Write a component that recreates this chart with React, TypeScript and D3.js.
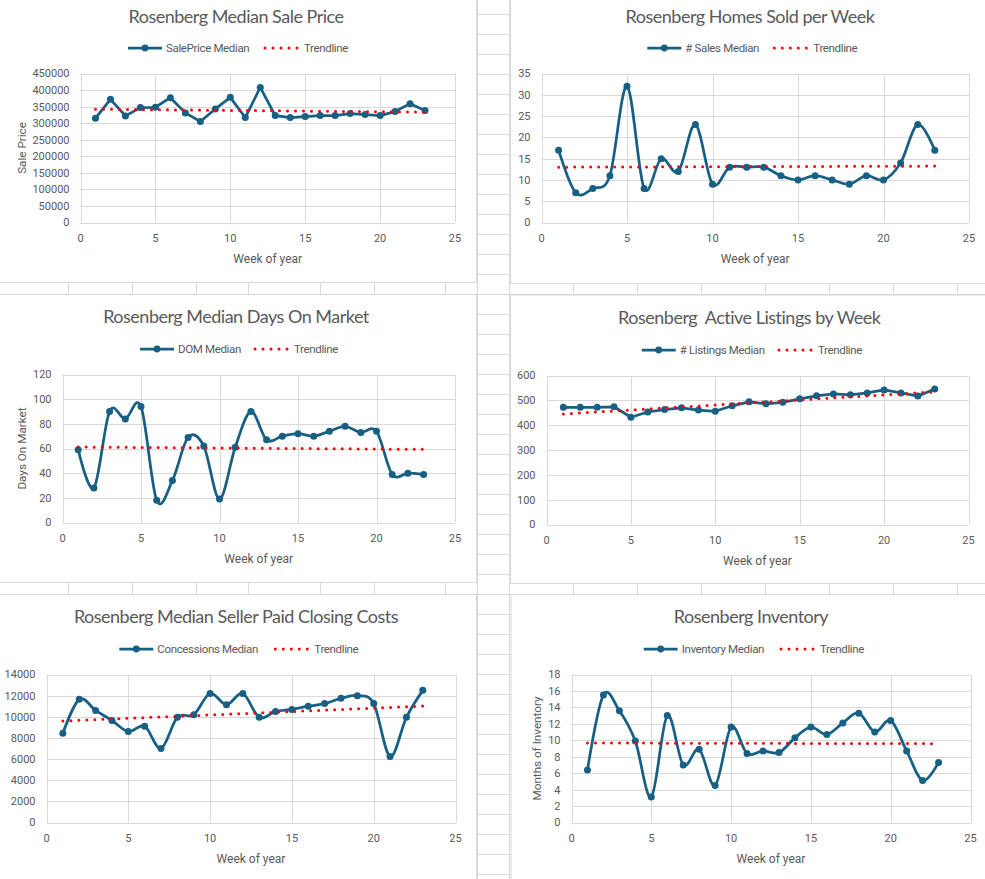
import React from "react";
import * as d3 from "d3";

// ---------- DATA ----------
const weeks = [1, 2, 3, 4, 5, 6, 7, 8, 9, 10, 11, 12, 13, 14, 15, 16, 17, 18, 19, 20, 21, 22, 23];
const xTicks = [0, 5, 10, 15, 20, 25];
const trendWeeks = [1, 23];

const salePriceMedian = [315000, 372000, 322000, 347000, 348000, 377000, 331000, 305000, 343000, 378000, 317000, 408000, 323000, 317000, 320000, 323000, 323000, 329000, 326000, 323000, 335000, 359000, 338000];
const salePriceTrend = [342300, 333200];
const salePriceTicks = [0, 50000, 100000, 150000, 200000, 250000, 300000, 350000, 400000, 450000];

const salesMedian = [17, 7, 8, 11, 32, 8, 15, 12, 23, 9, 13, 13, 13, 11, 10, 11, 10, 9, 11, 10, 14, 23, 17];
const salesTrend = [13.0, 13.25];
const salesTicks = [0, 5, 10, 15, 20, 25, 30, 35];

const domMedian = [59, 28, 90, 84, 94, 18, 34, 69, 62, 19, 61, 90, 67, 70, 72, 70, 74, 78, 73, 74, 39, 40, 39];
const domTrend = [61.2, 59.3];
const domTicks = [0, 20, 40, 60, 80, 100, 120];

const listingsMedian = [472, 472, 472, 474, 432, 453, 463, 470, 461, 456, 478, 494, 486, 492, 506, 518, 526, 522, 530, 542, 530, 517, 546];
const listingsTrend = [445, 534];
const listingsTicks = [0, 100, 200, 300, 400, 500, 600];

const concessionsMedian = [8450, 11650, 10600, 9650, 8600, 9100, 7000, 9950, 10200, 12200, 11150, 12200, 9950, 10500, 10700, 11000, 11250, 11750, 12000, 11250, 6250, 9950, 12500];
const concessionsTrend = [9600, 11010];
const concessionsTicks = [0, 2000, 4000, 6000, 8000, 10000, 12000, 14000];

const inventoryMedian = [6.4, 15.5, 13.6, 9.9, 3.1, 13.0, 7.0, 8.9, 4.5, 11.6, 8.4, 8.7, 8.5, 10.3, 11.6, 10.7, 12.1, 13.3, 11.0, 12.4, 8.7, 5.1, 7.3];
const inventoryTrend = [9.67, 9.59];
const inventoryTicks = [0, 2, 4, 6, 8, 10, 12, 14, 16, 18];

// ---------- STYLE / LAYOUT ----------
const TITLE_FONT = "Lato, 'Open Sans', sans-serif";
const SMALL_FONT = "Roboto, 'Liberation Sans', sans-serif";
const TEXT_COLOR = "#595959";
const GRID = "#d9d9d9";
const LINE_COLOR = "#176084";
const TREND_COLOR = "#ff0000";

const sheetRows = d3.range(0, 44).map((k) => 14.5 + 20 * k);
const sheetCols = [68.5, 132.5, 196.5, 248.5, 320.5, 374.5, 445.5, 477.5, 509.5, 573.5, 637.5, 701.5, 765.5, 829.5, 893.5, 957.5];

type Spec = {
  title: string;
  series: string;
  values: number[];
  trend: number[];
  yTicks: number[];
  smooth: boolean;
  yTitle?: string;
  box: { x: number; y: number; w: number; h: number };
  plot: { l: number; r: number; t: number; b: number };
  titleX: number;
  titleY: number;
  legendY: number;
  legendLineX: number;
  legendDotsX: number;
  yTitleX?: number;
};

const charts: Spec[] = [
  {
    title: "Rosenberg Median Sale Price", series: "SalePrice Median", values: salePriceMedian, trend: salePriceTrend,
    yTicks: salePriceTicks, smooth: false, yTitle: "Sale Price",
    box: { x: -4.5, y: -4.5, w: 481, h: 287 }, plot: { l: 80.5, r: 455, t: 73.5, b: 222.5 },
    titleX: 236, titleY: 22.7, legendY: 48, legendLineX: 128, legendDotsX: 265, yTitleX: 21.7,
  },
  {
    title: "Rosenberg Homes Sold per Week", series: "# Sales Median", values: salesMedian, trend: salesTrend,
    yTicks: salesTicks, smooth: true,
    box: { x: 510.5, y: -4.5, w: 480, h: 288 }, plot: { l: 541.5, r: 969, t: 73.5, b: 222.5 },
    titleX: 750, titleY: 22.7, legendY: 48, legendLineX: 647.3, legendDotsX: 774.3,
  },
  {
    title: "Rosenberg Median Days On Market", series: "DOM Median", values: domMedian, trend: domTrend,
    yTicks: domTicks, smooth: true, yTitle: "Days On Market",
    box: { x: -4.5, y: 294.5, w: 481, h: 288 }, plot: { l: 62.5, r: 455, t: 374.5, b: 522.5 },
    titleX: 236, titleY: 323.3, legendY: 349, legendLineX: 140, legendDotsX: 255, yTitleX: 21.7,
  },
  {
    title: "Rosenberg  Active Listings by Week", series: "# Listings Median", values: listingsMedian, trend: listingsTrend,
    yTicks: listingsTicks, smooth: false,
    box: { x: 510.5, y: 295, w: 480, h: 288.5 }, plot: { l: 546.5, r: 968.5, t: 375.5, b: 524.5 },
    titleX: 749.3, titleY: 324.3, legendY: 350, legendLineX: 641.7, legendDotsX: 779,
  },
  {
    title: "Rosenberg Median Seller Paid Closing Costs", series: "Concessions Median", values: concessionsMedian, trend: concessionsTrend,
    yTicks: concessionsTicks, smooth: true,
    box: { x: -4.5, y: 594.5, w: 481, h: 300 }, plot: { l: 46.5, r: 455.5, t: 674.5, b: 822.5 },
    titleX: 236, titleY: 623.3, legendY: 649, legendLineX: 119.3, legendDotsX: 275.3,
  },
  {
    title: "Rosenberg Inventory", series: "Inventory Median", values: inventoryMedian, trend: inventoryTrend,
    yTicks: inventoryTicks, smooth: true, yTitle: "Months of Inventory",
    box: { x: 511, y: 594.5, w: 480, h: 300 }, plot: { l: 571.5, r: 970.5, t: 674.5, b: 822.5 },
    titleX: 751, titleY: 623.3, legendY: 649, legendLineX: 643.7, legendDotsX: 781, yTitleX: 536.7,
  },
];

function Chart({ s }: { s: Spec }) {
  const x = d3.scaleLinear().domain([0, 25]).range([s.plot.l, s.plot.r]);
  const yMax = s.yTicks[s.yTicks.length - 1];
  const y = d3.scaleLinear().domain([0, yMax]).range([s.plot.b, s.plot.t]);
  const pts: [number, number][] = weeks.map((w, i) => [x(w), y(s.values[i])]);
  const line = d3
    .line<[number, number]>()
    .x((d) => d[0])
    .y((d) => d[1])
    .curve(s.smooth ? d3.curveCardinal.tension(0) : d3.curveLinear);
  const trendPts: [number, number][] = trendWeeks.map((w, i) => [x(w), y(s.trend[i])]);
  const trendPath = d3.line()(trendPts) as string;
  const midY = (s.plot.t + s.plot.b) / 2;
  const midX = (s.plot.l + s.plot.r) / 2;
  return (
    <g>
      <rect x={s.box.x} y={s.box.y} width={s.box.w} height={s.box.h} fill="#fff" stroke={GRID} strokeWidth={1} />
      <text x={s.titleX} y={s.titleY} textAnchor="middle" fontFamily={TITLE_FONT} fontSize={18} letterSpacing={-0.5} fill={TEXT_COLOR} style={{ whiteSpace: "pre" }}>
        {s.title}
      </text>
      {/* legend */}
      <g fontFamily={SMALL_FONT} fontSize={11.5} letterSpacing={-0.35} fill={TEXT_COLOR}>
        <line x1={s.legendLineX} x2={s.legendLineX + 34} y1={s.legendY} y2={s.legendY} stroke={LINE_COLOR} strokeWidth={2.75} />
        <circle cx={s.legendLineX + 17} cy={s.legendY} r={3.4} fill={LINE_COLOR} />
        <text x={s.legendLineX + 38} y={s.legendY + 4}>{s.series}</text>
        <line x1={s.legendDotsX} x2={s.legendDotsX + 34} y1={s.legendY} y2={s.legendY} stroke={TREND_COLOR} strokeWidth={3} strokeLinecap="round" strokeDasharray="0 8" />
        <text x={s.legendDotsX + 39} y={s.legendY + 4}>Trendline</text>
      </g>
      {/* grid */}
      {s.yTicks.map((t) => (
        <line key={"h" + t} x1={s.plot.l} x2={s.plot.r} y1={Math.round(y(t)) + 0.5} y2={Math.round(y(t)) + 0.5} stroke={GRID} strokeWidth={1} />
      ))}
      {xTicks.map((t) => (
        <line key={"v" + t} x1={Math.round(x(t)) + 0.5} x2={Math.round(x(t)) + 0.5} y1={s.plot.t} y2={s.plot.b} stroke={GRID} strokeWidth={1} />
      ))}
      {/* tick labels */}
      <g fontFamily={SMALL_FONT} fontSize={11} fill={TEXT_COLOR}>
        {s.yTicks.map((t) => (
          <text key={"yl" + t} x={s.plot.l - 11} y={y(t) + 3.9} textAnchor="end">{t}</text>
        ))}
        {xTicks.map((t) => (
          <text key={"xl" + t} x={x(t)} y={s.plot.b + 19} textAnchor="middle">{t}</text>
        ))}
      </g>
      <g fontFamily={SMALL_FONT} fill={TEXT_COLOR}>
        <text x={midX} y={s.plot.b + 40.2} textAnchor="middle" fontSize={12}>Week of year</text>
        {s.yTitle && (
          <text transform={`translate(${s.yTitleX! + 4},${midY}) rotate(-90)`} textAnchor="middle" fontSize={11.7}>{s.yTitle}</text>
        )}
      </g>
      {/* series */}
      <path d={line(pts) as string} fill="none" stroke={LINE_COLOR} strokeWidth={2.75} strokeLinejoin="round" />
      {pts.map((p, i) => (
        <circle key={"m" + i} cx={p[0]} cy={p[1]} r={3.5} fill={LINE_COLOR} />
      ))}
      <path d={trendPath} fill="none" stroke={TREND_COLOR} strokeWidth={3} strokeLinecap="round" strokeDasharray="0 8" />
    </g>
  );
}

export default function App() {
  return (
    <svg width={985} height={879} style={{ position: "absolute", left: 0, top: 0, background: "#fff" }}>
      <rect x={0} y={0} width={985} height={879} fill="#fff" />
      {sheetRows.map((r) => (
        <line key={"r" + r} x1={0} x2={985} y1={r} y2={r} stroke={GRID} strokeWidth={1} />
      ))}
      {sheetCols.map((c) => (
        <line key={"c" + c} x1={c} x2={c} y1={0} y2={879} stroke={GRID} strokeWidth={1} />
      ))}
      {charts.map((s, i) => (
        <Chart key={i} s={s} />
      ))}
    </svg>
  );
}
